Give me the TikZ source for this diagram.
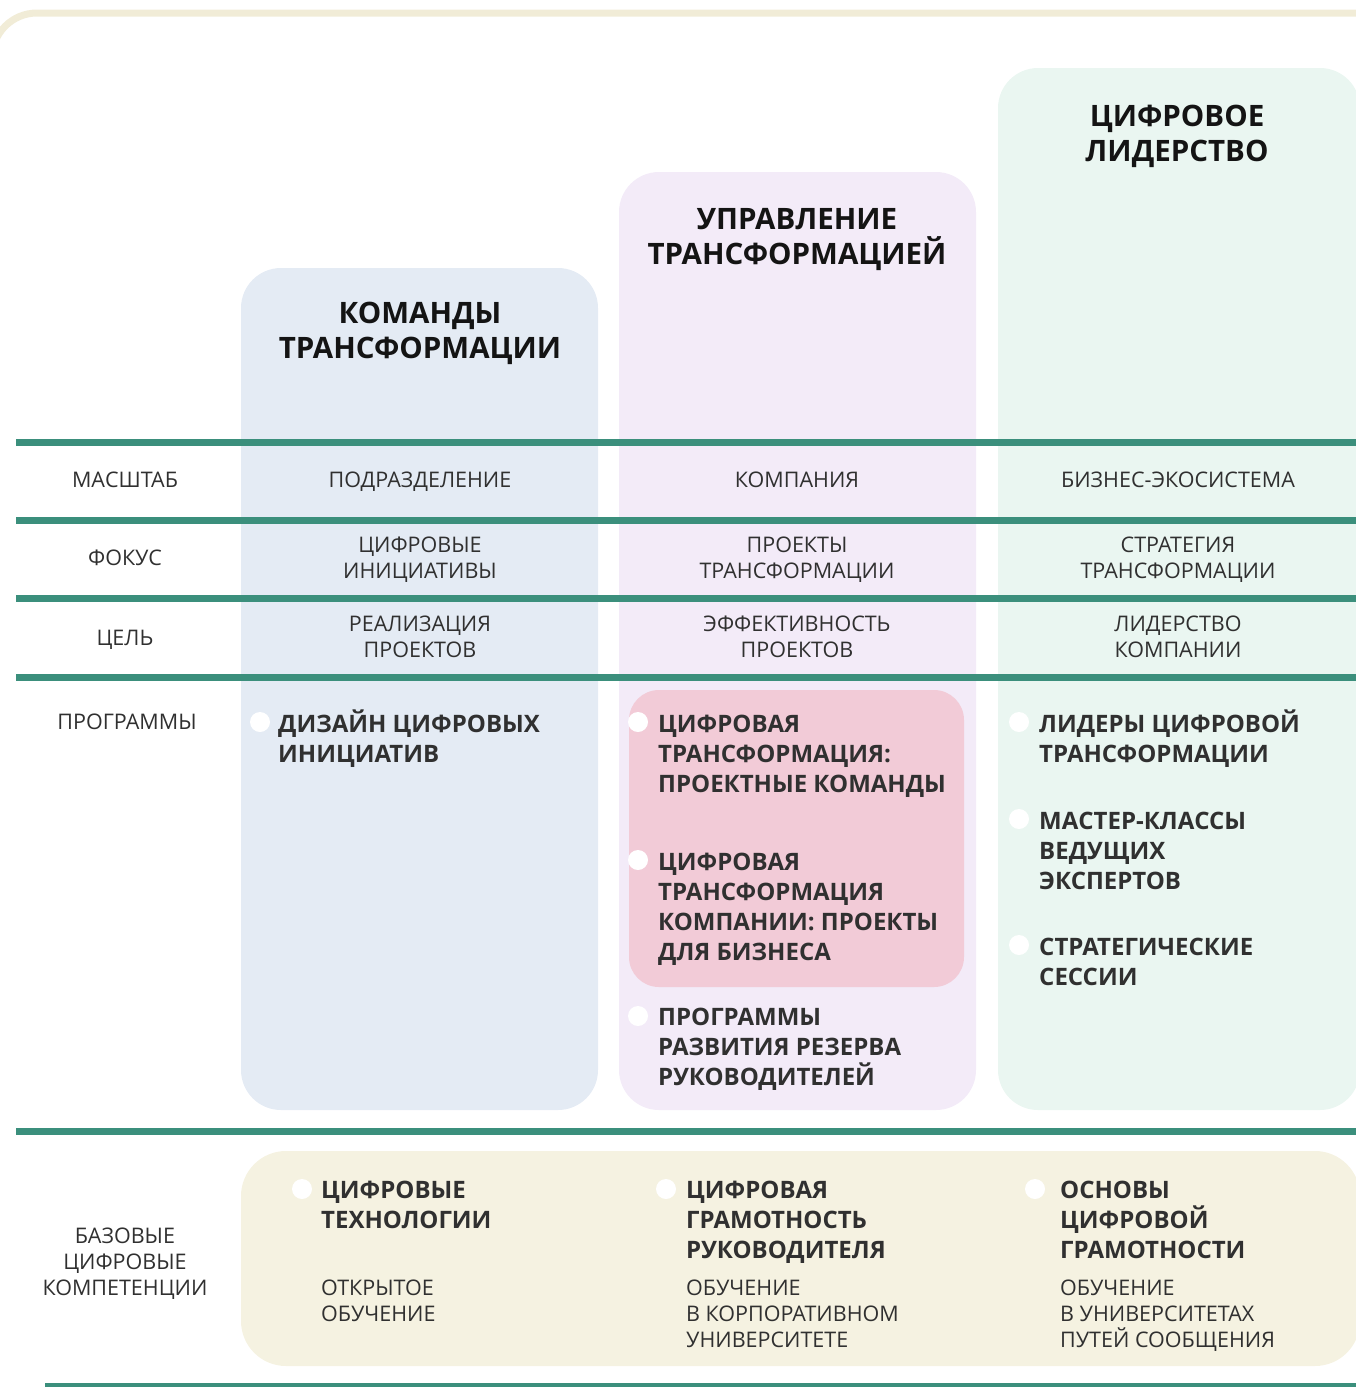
\documentclass[tikz,border=0pt]{standalone}
\usepackage{fontspec}
\setmainfont{Open Sans}
\usetikzlibrary{positioning}
\definecolor{sepgreen}{HTML}{3B8F7C}
\definecolor{txtgray}{HTML}{303030}
\definecolor{colblue}{HTML}{E4EBF4}
\definecolor{colviolet}{HTML}{F3EBF8}
\definecolor{colmint}{HTML}{EAF6F1}
\definecolor{colpink}{HTML}{F2CBD7}
\definecolor{colbeige}{HTML}{F5F2E1}
\definecolor{framebeige}{HTML}{F1ECD7}

\begin{document}
\begin{tikzpicture}[x=1pt, y=-1pt,
  column/.style={rounded corners=40pt},
  sepline/.style={draw=sepgreen, line width=7pt},
  lbl/.style={font=\fontsize{21.5}{26}\selectfont, text=txtgray, align=center, inner sep=0pt, anchor=base},
  sub/.style={lbl, align=left, anchor=base west},
  head/.style={font=\fontsize{29.5}{35}\selectfont\bfseries, text=black!92, align=center, inner sep=0pt, anchor=base},
  prog/.style={font=\fontsize{24}{30}\selectfont\bfseries, text=txtgray, align=left, inner sep=0pt, anchor=base west},
  bul/.style={circle, fill=white, minimum size=20pt, inner sep=0pt}
]
\useasboundingbox (0,0) rectangle (1355,1387);

% frame and columns
\draw[framebeige, line width=7pt, rounded corners=45pt] (-8,200) |- (1380,13);
\fill[colblue, column] (241,268) rectangle (598,1110);
\fill[colviolet, column] (619,172) rectangle (976,1110);
\fill[colmint, column] (998,68) rectangle (1360,1110);
\fill[colpink, rounded corners=30pt] (629,690) rectangle (964,987);
\fill[colbeige, rounded corners=45pt] (241,1151) rectangle (1360,1366);

% separators
\foreach \y in {442,520,598,677,1131}
  \draw[sepline] (16,\y) -- (1360,\y);
\draw[sepline] (45,1386) -- (1360,1386);

% headings (anchored at the last baseline)
\node[head] (hteams) at (420,358) {КОМАНДЫ\\ТРАНСФОРМАЦИИ};
\node[head] (hmanage) at (797,264) {УПРАВЛЕНИЕ\\ТРАНСФОРМАЦИЕЙ};
\node[head] (hlead) at (1177,161) {ЦИФРОВОЕ\\ЛИДЕРСТВО};

% row labels
\node[lbl] (rscale) at (125,487) {МАСШТАБ};
\node[lbl] (rfocus) at (125,565) {ФОКУС};
\node[lbl] (rgoal) at (125,645) {ЦЕЛЬ};
\node[lbl] (rprog) at (127,729) {ПРОГРАММЫ};
\node[lbl] (rbase) at (125,1295) {БАЗОВЫЕ\\ЦИФРОВЫЕ\\КОМПЕТЕНЦИИ};

% cells
\node[lbl] (scale1) at (420,487) {ПОДРАЗДЕЛЕНИЕ};
\node[lbl] (scale2) at (797,487) {КОМПАНИЯ};
\node[lbl] (scale3) at (1178,487) {БИЗНЕС-ЭКОСИСТЕМА};
\node[lbl] (focus1) at (420,578) {ЦИФРОВЫЕ\\ИНИЦИАТИВЫ};
\node[lbl] (focus2) at (797,578) {ПРОЕКТЫ\\ТРАНСФОРМАЦИИ};
\node[lbl] (focus3) at (1178,578) {СТРАТЕГИЯ\\ТРАНСФОРМАЦИИ};
\node[lbl] (goal1) at (420,657) {РЕАЛИЗАЦИЯ\\ПРОЕКТОВ};
\node[lbl] (goal2) at (797,657) {ЭФФЕКТИВНОСТЬ\\ПРОЕКТОВ};
\node[lbl] (goal3) at (1178,657) {ЛИДЕРСТВО\\КОМПАНИИ};

% programmes
\node[bul] (b11) at (260,722) {};
\node[prog] (p11) at (278,762) {ДИЗАЙН ЦИФРОВЫХ\\ИНИЦИАТИВ};
\node[bul] (b21) at (638,722) {};
\node[prog] (p21) at (658,792) {ЦИФРОВАЯ\\ТРАНСФОРМАЦИЯ:\\ПРОЕКТНЫЕ КОМАНДЫ};
\node[bul] (b22) at (638,860) {};
\node[prog] (p22) at (658,960) {ЦИФРОВАЯ\\ТРАНСФОРМАЦИЯ\\КОМПАНИИ: ПРОЕКТЫ\\ДЛЯ БИЗНЕСА};
\node[bul] (b23) at (638,1016) {};
\node[prog] (p23) at (658,1085) {ПРОГРАММЫ\\РАЗВИТИЯ РЕЗЕРВА\\РУКОВОДИТЕЛЕЙ};
\node[bul] (b31) at (1019,722) {};
\node[prog] (p31) at (1039,762) {ЛИДЕРЫ ЦИФРОВОЙ\\ТРАНСФОРМАЦИИ};
\node[bul] (b32) at (1019,819) {};
\node[prog] (p32) at (1039,889) {МАСТЕР-КЛАССЫ\\ВЕДУЩИХ\\ЭКСПЕРТОВ};
\node[bul] (b33) at (1019,945) {};
\node[prog] (p33) at (1039,985) {СТРАТЕГИЧЕСКИЕ\\СЕССИИ};

% base competences
\node[bul] (bb1) at (302,1189) {};
\node[prog] (pb1) at (321,1228) {ЦИФРОВЫЕ\\ТЕХНОЛОГИИ};
\node[sub] (sb1) at (321,1321) {ОТКРЫТОЕ\\ОБУЧЕНИЕ};
\node[bul] (bb2) at (666,1189) {};
\node[prog] (pb2) at (686,1258) {ЦИФРОВАЯ\\ГРАМОТНОСТЬ\\РУКОВОДИТЕЛЯ};
\node[sub] (sb2) at (686,1347) {ОБУЧЕНИЕ\\В КОРПОРАТИВНОМ\\УНИВЕРСИТЕТЕ};
\node[bul] (bb3) at (1035,1189) {};
\node[prog] (pb3) at (1060,1258) {ОСНОВЫ\\ЦИФРОВОЙ\\ГРАМОТНОСТИ};
\node[sub] (sb3) at (1060,1347) {ОБУЧЕНИЕ\\В УНИВЕРСИТЕТАХ\\ПУТЕЙ СООБЩЕНИЯ};
\end{tikzpicture}
\end{document}
